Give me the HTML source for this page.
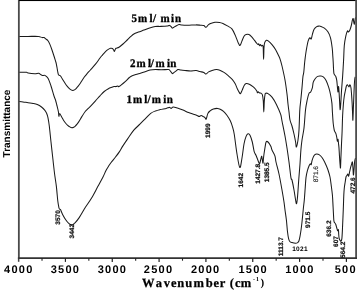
<!DOCTYPE html>
<html><head><meta charset="utf-8"><style>
html,body{margin:0;padding:0;background:#fff;}
body{width:357px;height:290px;overflow:hidden;font-family:"Liberation Sans",sans-serif;}
svg{display:block;will-change:transform;text-rendering:geometricPrecision;}
</style></head><body>
<svg width="357" height="290" viewBox="0 0 357 290">
<rect width="357" height="290" fill="#fff"/>
<path d="M18.50 36.40 C20.08 36.40 24.75 36.40 28.00 36.40 C31.25 36.40 36.03 36.33 38.00 36.40 C39.97 36.47 39.07 36.60 39.80 36.80 C40.53 37.00 41.70 37.48 42.40 37.60 C43.10 37.72 43.45 37.30 44.00 37.50 C44.55 37.70 45.03 38.25 45.70 38.80 C46.37 39.35 47.28 39.83 48.00 40.80 C48.72 41.77 49.33 43.07 50.00 44.60 C50.67 46.13 51.23 47.77 52.00 50.00 C52.77 52.23 53.93 55.92 54.60 58.00 C55.27 60.08 55.60 60.92 56.00 62.50 C56.40 64.08 56.72 66.00 57.00 67.50 C57.28 69.00 57.47 70.32 57.70 71.50 C57.93 72.68 58.15 73.97 58.40 74.60 C58.65 75.23 58.90 75.13 59.20 75.30 C59.50 75.47 59.87 75.32 60.20 75.60 C60.53 75.88 60.70 76.22 61.20 77.00 C61.70 77.78 62.53 79.22 63.20 80.30 C63.87 81.38 64.52 82.50 65.20 83.50 C65.88 84.50 66.60 85.45 67.30 86.30 C68.00 87.15 68.77 88.00 69.40 88.60 C70.03 89.20 70.53 89.60 71.10 89.90 C71.67 90.20 72.23 90.40 72.80 90.40 C73.37 90.40 73.95 90.20 74.50 89.90 C75.05 89.60 75.48 89.22 76.10 88.60 C76.72 87.98 77.50 87.08 78.20 86.20 C78.90 85.32 79.25 84.87 80.30 83.30 C81.35 81.73 83.30 78.48 84.50 76.80 C85.70 75.12 86.52 74.33 87.50 73.20 C88.48 72.07 89.07 71.50 90.40 70.00 C91.73 68.50 93.90 66.20 95.50 64.20 C97.10 62.20 98.88 59.48 100.00 58.00 C101.12 56.52 101.28 56.37 102.20 55.30 C103.12 54.23 104.48 52.58 105.50 51.60 C106.52 50.62 107.47 49.95 108.30 49.40 C109.13 48.85 109.80 48.45 110.50 48.30 C111.20 48.15 112.00 48.25 112.50 48.50 C113.00 48.75 113.18 49.28 113.50 49.80 C113.82 50.32 114.12 51.65 114.40 51.60 C114.68 51.55 114.93 50.05 115.20 49.50 C115.47 48.95 115.37 48.68 116.00 48.30 C116.63 47.92 117.83 47.92 119.00 47.20 C120.17 46.48 121.63 45.20 123.00 44.00 C124.37 42.80 125.93 41.22 127.20 40.00 C128.47 38.78 129.48 37.70 130.60 36.70 C131.72 35.70 132.60 34.77 133.90 34.00 C135.20 33.23 136.72 32.75 138.40 32.10 C140.08 31.45 142.13 30.78 144.00 30.10 C145.87 29.42 147.73 28.60 149.60 28.00 C151.47 27.40 153.47 26.77 155.20 26.50 C156.93 26.23 158.53 26.43 160.00 26.40 C161.47 26.37 162.80 26.35 164.00 26.30 C165.20 26.25 166.30 26.25 167.20 26.10 C168.10 25.95 168.75 25.32 169.40 25.40 C170.05 25.48 170.63 26.15 171.10 26.60 C171.57 27.05 171.73 28.00 172.20 28.10 C172.67 28.20 173.33 27.50 173.90 27.20 C174.47 26.90 174.75 26.73 175.60 26.30 C176.45 25.87 177.97 24.80 179.00 24.60 C180.03 24.40 180.40 24.98 181.80 25.10 C183.20 25.22 185.03 25.33 187.40 25.30 C189.77 25.27 193.82 24.92 196.00 24.90 C198.18 24.88 199.20 25.08 200.50 25.20 C201.80 25.32 202.87 25.25 203.80 25.60 C204.73 25.95 205.35 27.42 206.10 27.30 C206.85 27.18 207.55 25.53 208.30 24.90 C209.05 24.27 209.48 23.93 210.60 23.50 C211.72 23.07 213.52 22.48 215.00 22.30 C216.48 22.12 218.18 22.22 219.50 22.40 C220.82 22.58 221.58 22.82 222.90 23.40 C224.22 23.98 225.90 24.98 227.40 25.90 C228.90 26.82 230.58 27.32 231.90 28.90 C233.22 30.48 234.22 33.02 235.30 35.40 C236.38 37.78 237.60 41.55 238.40 43.20 C239.20 44.85 239.52 45.65 240.10 45.30 C240.68 44.95 241.25 42.62 241.90 41.10 C242.55 39.58 243.30 37.28 244.00 36.20 C244.70 35.12 245.28 34.87 246.10 34.60 C246.92 34.33 247.97 34.22 248.90 34.60 C249.83 34.98 250.77 35.93 251.70 36.90 C252.63 37.87 253.68 39.35 254.50 40.40 C255.32 41.45 256.02 42.50 256.60 43.20 C257.18 43.90 257.65 44.48 258.00 44.60 C258.35 44.72 258.42 43.72 258.70 43.90 C258.98 44.08 259.40 45.58 259.70 45.70 C260.00 45.82 260.20 44.55 260.50 44.60 C260.80 44.65 261.17 45.88 261.50 46.00 C261.83 46.12 262.22 45.05 262.50 45.30 C262.78 45.55 263.02 45.17 263.20 47.50 C263.38 49.83 263.47 59.30 263.60 59.30 C263.73 59.30 263.82 50.28 264.00 47.50 C264.18 44.72 264.30 43.80 264.70 42.60 C265.10 41.40 265.77 40.55 266.40 40.30 C267.03 40.05 267.57 40.38 268.50 41.10 C269.43 41.82 270.83 43.20 272.00 44.60 C273.17 46.00 274.45 47.75 275.50 49.50 C276.55 51.25 277.55 53.55 278.30 55.10 C279.05 56.65 279.38 56.98 280.00 58.80 C280.62 60.62 281.17 62.47 282.00 66.00 C282.83 69.53 284.17 75.33 285.00 80.00 C285.83 84.67 286.50 90.00 287.00 94.00 C287.50 98.00 287.67 101.00 288.00 104.00 C288.33 107.00 288.67 109.33 289.00 112.00 C289.33 114.67 289.50 117.67 290.00 120.00 C290.50 122.33 291.33 123.67 292.00 126.00 C292.67 128.33 293.40 131.33 294.00 134.00 C294.60 136.67 295.20 139.83 295.60 142.00 C296.00 144.17 296.00 147.33 296.40 147.00 C296.80 146.67 297.57 142.83 298.00 140.00 C298.43 137.17 298.70 135.00 299.00 130.00 C299.30 125.00 299.50 115.00 299.80 110.00 C300.10 105.00 300.43 103.73 300.80 100.00 C301.17 96.27 301.65 91.43 302.00 87.60 C302.35 83.77 302.60 79.60 302.90 77.00 C303.20 74.40 303.52 74.33 303.80 72.00 C304.08 69.67 304.35 65.50 304.60 63.00 C304.85 60.50 305.07 58.83 305.30 57.00 C305.53 55.17 305.77 53.52 306.00 52.00 C306.23 50.48 306.35 49.70 306.70 47.90 C307.05 46.10 307.58 42.88 308.10 41.20 C308.62 39.52 309.28 38.17 309.80 37.80 C310.32 37.43 310.77 39.58 311.20 39.00 C311.63 38.42 311.92 35.92 312.40 34.30 C312.88 32.68 313.38 30.58 314.10 29.30 C314.82 28.02 315.88 27.13 316.70 26.60 C317.52 26.07 318.28 26.13 319.00 26.10 C319.72 26.07 320.10 26.05 321.00 26.40 C321.90 26.75 323.25 27.30 324.40 28.20 C325.55 29.10 326.88 30.20 327.90 31.80 C328.92 33.40 329.78 35.10 330.50 37.80 C331.22 40.50 331.82 44.97 332.20 48.00 C332.58 51.03 332.63 53.67 332.80 56.00 C332.97 58.33 333.08 59.95 333.20 62.00 C333.32 64.05 333.38 66.42 333.50 68.30 C333.62 70.18 333.70 72.20 333.90 73.30 C334.10 74.40 334.37 74.32 334.70 74.90 C335.03 75.48 335.55 75.83 335.90 76.80 C336.25 77.77 336.55 79.02 336.80 80.70 C337.05 82.38 337.20 85.02 337.40 86.90 C337.60 88.78 337.82 92.07 338.00 92.00 C338.18 91.93 338.33 86.67 338.50 86.50 C338.67 86.33 338.82 88.52 339.00 91.00 C339.18 93.48 339.42 98.28 339.60 101.40 C339.78 104.52 339.90 109.43 340.10 109.70 C340.30 109.97 340.57 106.12 340.80 103.00 C341.03 99.88 341.20 95.40 341.50 91.00 C341.80 86.60 342.25 81.77 342.60 76.60 C342.95 71.43 343.32 65.18 343.60 60.00 C343.88 54.82 343.93 49.47 344.30 45.50 C344.67 41.53 345.28 38.62 345.80 36.20 C346.32 33.78 346.97 31.70 347.40 31.00 C347.83 30.30 347.98 32.17 348.40 32.00 C348.82 31.83 349.42 31.08 349.90 30.00 C350.38 28.92 350.90 27.08 351.30 25.50 C351.70 23.92 351.98 21.65 352.30 20.50 C352.62 19.35 352.88 17.93 353.20 18.60 C353.52 19.27 353.85 24.52 354.20 24.50 C354.55 24.48 355.00 19.67 355.30 18.50 C355.60 17.33 355.88 17.67 356.00 17.50" fill="none" stroke="#1a1a1a" stroke-width="1.05" stroke-linejoin="round"/>
<path d="M18.50 72.20 C19.82 72.22 24.80 72.15 26.40 72.30 C28.00 72.45 26.70 72.87 28.10 73.10 C29.50 73.33 33.05 73.68 34.80 73.70 C36.55 73.72 37.62 73.07 38.60 73.20 C39.58 73.33 40.07 74.12 40.70 74.50 C41.33 74.88 41.70 75.35 42.40 75.50 C43.10 75.65 43.97 74.93 44.90 75.40 C45.83 75.87 46.98 76.53 48.00 78.30 C49.02 80.07 50.00 83.05 51.00 86.00 C52.00 88.95 53.25 93.67 54.00 96.00 C54.75 98.33 55.03 98.50 55.50 100.00 C55.97 101.50 56.42 103.50 56.80 105.00 C57.18 106.50 57.52 107.78 57.80 109.00 C58.08 110.22 58.32 111.08 58.50 112.30 C58.68 113.52 58.75 116.05 58.90 116.30 C59.05 116.55 59.18 114.13 59.40 113.80 C59.62 113.47 59.80 113.73 60.20 114.30 C60.60 114.87 61.25 116.22 61.80 117.20 C62.35 118.18 62.88 119.23 63.50 120.20 C64.12 121.17 64.80 122.15 65.50 123.00 C66.20 123.85 66.98 124.65 67.70 125.30 C68.42 125.95 69.10 126.48 69.80 126.90 C70.50 127.32 71.25 127.73 71.90 127.80 C72.55 127.87 73.13 127.58 73.70 127.30 C74.27 127.02 74.75 126.62 75.30 126.10 C75.85 125.58 76.43 124.90 77.00 124.20 C77.57 123.50 77.87 123.20 78.70 121.90 C79.53 120.60 80.88 118.17 82.00 116.40 C83.12 114.63 84.40 112.60 85.40 111.30 C86.40 110.00 87.17 109.43 88.00 108.60 C88.83 107.77 89.15 107.60 90.40 106.30 C91.65 105.00 93.90 102.55 95.50 100.80 C97.10 99.05 98.55 97.35 100.00 95.80 C101.45 94.25 102.80 92.68 104.20 91.50 C105.60 90.32 107.12 89.40 108.40 88.70 C109.68 88.00 110.97 87.65 111.90 87.30 C112.83 86.95 113.30 86.72 114.00 86.60 C114.70 86.48 115.52 86.72 116.10 86.60 C116.68 86.48 117.03 85.90 117.50 85.90 C117.97 85.90 118.32 86.72 118.90 86.60 C119.48 86.48 119.95 86.02 121.00 85.20 C122.05 84.38 123.80 82.98 125.20 81.70 C126.60 80.42 128.23 78.50 129.40 77.50 C130.57 76.50 130.80 76.28 132.20 75.70 C133.60 75.12 135.93 74.57 137.80 74.00 C139.67 73.43 141.37 72.95 143.40 72.30 C145.43 71.65 147.97 70.57 150.00 70.10 C152.03 69.63 153.73 69.55 155.60 69.50 C157.47 69.45 159.10 69.80 161.20 69.80 C163.30 69.80 166.80 69.45 168.20 69.50 C169.60 69.55 169.13 69.70 169.60 70.10 C170.07 70.50 170.53 71.32 171.00 71.90 C171.47 72.48 171.93 73.48 172.40 73.60 C172.87 73.72 173.22 73.02 173.80 72.60 C174.38 72.18 175.20 71.60 175.90 71.10 C176.60 70.60 177.18 69.77 178.00 69.60 C178.82 69.43 179.63 69.95 180.80 70.10 C181.97 70.25 183.37 70.37 185.00 70.50 C186.63 70.63 188.73 70.88 190.60 70.90 C192.47 70.92 194.63 70.48 196.20 70.60 C197.77 70.72 198.75 71.30 200.00 71.60 C201.25 71.90 202.68 72.00 203.70 72.40 C204.72 72.80 205.28 74.08 206.10 74.00 C206.92 73.92 207.60 72.48 208.60 71.90 C209.60 71.32 210.82 70.88 212.10 70.50 C213.38 70.12 215.02 69.65 216.30 69.60 C217.58 69.55 218.52 69.73 219.80 70.20 C221.08 70.67 222.60 71.48 224.00 72.40 C225.40 73.32 226.80 74.50 228.20 75.70 C229.60 76.90 231.23 78.25 232.40 79.60 C233.57 80.95 234.38 82.28 235.20 83.80 C236.02 85.32 236.60 87.23 237.30 88.70 C238.00 90.17 238.87 91.78 239.40 92.60 C239.93 93.42 240.03 94.02 240.50 93.60 C240.97 93.18 241.57 91.50 242.20 90.10 C242.83 88.70 243.62 86.30 244.30 85.20 C244.98 84.10 245.38 83.62 246.30 83.50 C247.22 83.38 248.63 83.93 249.80 84.50 C250.97 85.07 252.37 86.15 253.30 86.90 C254.23 87.65 254.82 88.30 255.40 89.00 C255.98 89.70 256.45 90.47 256.80 91.10 C257.15 91.73 257.27 92.68 257.50 92.80 C257.73 92.92 257.85 91.77 258.20 91.80 C258.55 91.83 259.13 92.77 259.60 93.00 C260.07 93.23 260.53 92.90 261.00 93.20 C261.47 93.50 262.02 93.50 262.40 94.80 C262.78 96.10 263.07 98.13 263.30 101.00 C263.53 103.87 263.63 112.00 263.80 112.00 C263.97 112.00 264.08 103.97 264.30 101.00 C264.52 98.03 264.83 95.50 265.10 94.20 C265.37 92.90 265.42 93.30 265.90 93.20 C266.38 93.10 266.95 92.90 268.00 93.60 C269.05 94.30 270.80 95.60 272.20 97.40 C273.60 99.20 275.00 101.60 276.40 104.40 C277.80 107.20 279.67 111.43 280.60 114.20 C281.53 116.97 281.27 117.37 282.00 121.00 C282.73 124.63 284.17 131.50 285.00 136.00 C285.83 140.50 286.33 143.67 287.00 148.00 C287.67 152.33 288.33 157.00 289.00 162.00 C289.67 167.00 290.50 175.00 291.00 178.00 C291.50 181.00 291.50 178.00 292.00 180.00 C292.50 182.00 293.40 186.67 294.00 190.00 C294.60 193.33 295.17 197.73 295.60 200.00 C296.03 202.27 296.27 204.27 296.60 203.60 C296.93 202.93 297.23 200.10 297.60 196.00 C297.97 191.90 298.40 184.33 298.80 179.00 C299.20 173.67 299.65 168.83 300.00 164.00 C300.35 159.17 300.57 154.00 300.90 150.00 C301.23 146.00 301.48 143.67 302.00 140.00 C302.52 136.33 303.42 133.00 304.00 128.00 C304.58 123.00 304.97 114.67 305.50 110.00 C306.03 105.33 306.63 102.73 307.20 100.00 C307.77 97.27 308.32 94.95 308.90 93.60 C309.48 92.25 310.12 92.90 310.70 91.90 C311.28 90.90 311.98 89.18 312.40 87.60 C312.82 86.02 312.77 83.83 313.20 82.40 C313.63 80.97 314.27 80.00 315.00 79.00 C315.73 78.00 316.60 76.90 317.60 76.40 C318.60 75.90 320.00 75.87 321.00 76.00 C322.00 76.13 322.73 76.42 323.60 77.20 C324.47 77.98 325.33 78.97 326.20 80.70 C327.07 82.43 328.08 85.30 328.80 87.60 C329.52 89.90 329.98 91.92 330.50 94.50 C331.02 97.08 331.58 100.18 331.90 103.10 C332.22 106.02 332.18 108.63 332.40 112.00 C332.62 115.37 332.92 120.42 333.20 123.30 C333.48 126.18 333.85 127.95 334.10 129.30 C334.35 130.65 334.40 130.68 334.70 131.40 C335.00 132.12 335.55 132.58 335.90 133.60 C336.25 134.62 336.55 136.23 336.80 137.50 C337.05 138.77 337.20 140.92 337.40 141.20 C337.60 141.48 337.82 138.82 338.00 139.20 C338.18 139.58 338.33 142.02 338.50 143.50 C338.67 144.98 338.83 145.95 339.00 148.10 C339.17 150.25 339.32 153.63 339.50 156.40 C339.68 159.17 339.93 162.80 340.10 164.70 C340.27 166.60 340.37 168.92 340.50 167.80 C340.63 166.68 340.73 161.97 340.90 158.00 C341.07 154.03 341.30 148.40 341.50 144.00 C341.70 139.60 341.92 136.27 342.10 131.60 C342.28 126.93 342.38 120.60 342.60 116.00 C342.82 111.40 343.12 107.33 343.40 104.00 C343.68 100.67 343.98 98.17 344.30 96.00 C344.62 93.83 344.95 92.67 345.30 91.00 C345.65 89.33 346.05 87.03 346.40 86.00 C346.75 84.97 346.97 84.65 347.40 84.80 C347.83 84.95 348.58 86.90 349.00 86.90 C349.42 86.90 349.57 84.62 349.90 84.80 C350.23 84.98 350.65 85.30 351.00 88.00 C351.35 90.70 351.73 96.67 352.00 101.00 C352.27 105.33 352.45 110.83 352.60 114.00 C352.75 117.17 352.75 121.50 352.90 120.00 C353.05 118.50 353.27 110.83 353.50 105.00 C353.73 99.17 354.07 89.50 354.30 85.00 C354.53 80.50 354.70 79.33 354.90 78.00 C355.10 76.67 355.40 77.17 355.50 77.00" fill="none" stroke="#1a1a1a" stroke-width="1.05" stroke-linejoin="round"/>
<path d="M18.50 101.30 C19.25 101.40 21.40 101.67 23.00 101.90 C24.60 102.13 26.42 102.45 28.10 102.70 C29.78 102.95 31.57 103.10 33.10 103.40 C34.63 103.70 35.90 103.90 37.30 104.50 C38.70 105.10 40.23 106.02 41.50 107.00 C42.77 107.98 44.05 109.35 44.90 110.40 C45.75 111.45 46.08 112.07 46.60 113.30 C47.12 114.53 47.55 115.68 48.00 117.80 C48.45 119.92 48.80 121.97 49.30 126.00 C49.80 130.03 50.38 136.33 51.00 142.00 C51.62 147.67 52.40 154.67 53.00 160.00 C53.60 165.33 54.03 169.57 54.60 174.00 C55.17 178.43 55.87 182.10 56.40 186.60 C56.93 191.10 57.37 197.43 57.80 201.00 C58.23 204.57 58.70 206.63 59.00 208.00 C59.30 209.37 59.35 208.93 59.60 209.20 C59.85 209.47 60.00 208.72 60.50 209.60 C61.00 210.48 61.73 212.82 62.60 214.50 C63.47 216.18 64.67 218.22 65.70 219.70 C66.73 221.18 67.83 222.53 68.80 223.40 C69.77 224.27 70.47 225.00 71.50 224.90 C72.53 224.80 73.72 224.02 75.00 222.80 C76.28 221.58 77.47 220.18 79.20 217.60 C80.93 215.02 83.33 210.57 85.40 207.30 C87.47 204.03 89.53 201.45 91.60 198.00 C93.67 194.55 95.90 190.10 97.80 186.60 C99.70 183.10 101.63 179.68 103.00 177.00 C104.37 174.32 105.08 172.28 106.00 170.50 C106.92 168.72 107.68 167.58 108.50 166.30 C109.32 165.02 109.70 164.38 110.90 162.80 C112.10 161.22 114.30 158.62 115.70 156.80 C117.10 154.98 118.10 153.72 119.30 151.90 C120.50 150.08 121.48 148.12 122.90 145.90 C124.32 143.68 125.98 141.22 127.80 138.60 C129.62 135.98 131.78 132.60 133.80 130.20 C135.82 127.80 137.88 126.22 139.90 124.20 C141.92 122.18 144.10 119.92 145.90 118.10 C147.70 116.28 149.08 114.50 150.70 113.30 C152.32 112.10 154.03 111.52 155.60 110.90 C157.17 110.28 158.33 110.02 160.10 109.60 C161.87 109.18 164.60 108.77 166.20 108.40 C167.80 108.03 168.88 107.38 169.70 107.40 C170.52 107.42 170.52 108.55 171.10 108.50 C171.68 108.45 172.15 107.17 173.20 107.10 C174.25 107.03 175.77 107.60 177.40 108.10 C179.03 108.60 181.13 109.35 183.00 110.10 C184.87 110.85 186.97 111.95 188.60 112.60 C190.23 113.25 191.40 113.53 192.80 114.00 C194.20 114.47 195.95 114.98 197.00 115.40 C198.05 115.82 198.40 116.47 199.10 116.50 C199.80 116.53 200.50 115.58 201.20 115.60 C201.90 115.62 202.67 116.27 203.30 116.60 C203.93 116.93 204.52 117.17 205.00 117.60 C205.48 118.03 205.73 119.87 206.20 119.20 C206.67 118.53 207.15 114.98 207.80 113.60 C208.45 112.22 209.17 111.67 210.10 110.90 C211.03 110.13 212.18 109.42 213.40 109.00 C214.62 108.58 216.27 108.37 217.40 108.40 C218.53 108.43 219.18 108.70 220.20 109.20 C221.22 109.70 222.38 110.38 223.50 111.40 C224.62 112.42 225.77 113.73 226.90 115.30 C228.03 116.87 229.37 118.87 230.30 120.80 C231.23 122.73 231.85 124.70 232.50 126.90 C233.15 129.10 233.45 129.48 234.20 134.00 C234.95 138.52 236.07 148.42 237.00 154.00 C237.93 159.58 238.97 166.83 239.80 167.50 C240.63 168.17 241.30 161.92 242.00 158.00 C242.70 154.08 243.33 147.57 244.00 144.00 C244.67 140.43 245.33 138.30 246.00 136.60 C246.67 134.90 247.33 134.03 248.00 133.80 C248.67 133.57 249.28 133.83 250.00 135.20 C250.72 136.57 251.60 139.25 252.30 142.00 C253.00 144.75 253.57 149.45 254.20 151.70 C254.83 153.95 255.43 153.95 256.10 155.50 C256.77 157.05 257.62 159.62 258.20 161.00 C258.78 162.38 259.23 163.80 259.60 163.80 C259.97 163.80 260.17 161.92 260.40 161.00 C260.63 160.08 260.78 159.10 261.00 158.30 C261.22 157.50 261.48 155.97 261.70 156.20 C261.92 156.43 262.08 158.55 262.30 159.70 C262.52 160.85 262.80 163.38 263.00 163.10 C263.20 162.82 263.33 159.52 263.50 158.00 C263.67 156.48 263.75 155.73 264.00 154.00 C264.25 152.27 264.65 149.60 265.00 147.60 C265.35 145.60 265.60 142.93 266.10 142.00 C266.60 141.07 267.22 141.30 268.00 142.00 C268.78 142.70 270.13 144.87 270.80 146.20 C271.47 147.53 271.32 148.38 272.00 150.00 C272.68 151.62 274.23 153.90 274.90 155.90 C275.57 157.90 275.32 158.98 276.00 162.00 C276.68 165.02 278.00 169.33 279.00 174.00 C280.00 178.67 281.17 185.33 282.00 190.00 C282.83 194.67 283.50 198.67 284.00 202.00 C284.50 205.33 284.60 207.00 285.00 210.00 C285.40 213.00 285.98 216.37 286.40 220.00 C286.82 223.63 287.13 228.70 287.50 231.80 C287.87 234.90 288.22 236.98 288.60 238.60 C288.98 240.22 289.23 240.83 289.80 241.50 C290.37 242.17 291.05 242.32 292.00 242.60 C292.95 242.88 294.55 243.20 295.50 243.20 C296.45 243.20 297.13 242.97 297.70 242.60 C298.27 242.23 298.52 242.03 298.90 241.00 C299.28 239.97 299.63 238.32 300.00 236.40 C300.37 234.48 300.77 231.90 301.10 229.50 C301.43 227.10 301.72 224.58 302.00 222.00 C302.28 219.42 302.55 216.50 302.80 214.00 C303.05 211.50 303.25 209.33 303.50 207.00 C303.75 204.67 304.02 203.17 304.30 200.00 C304.58 196.83 304.92 191.73 305.20 188.00 C305.48 184.27 305.63 180.48 306.00 177.60 C306.37 174.72 306.87 172.72 307.40 170.70 C307.93 168.68 308.70 166.65 309.20 165.50 C309.70 164.35 310.07 163.93 310.40 163.80 C310.73 163.67 310.92 165.28 311.20 164.70 C311.48 164.12 311.67 161.75 312.10 160.30 C312.53 158.85 313.22 157.00 313.80 156.00 C314.38 155.00 314.88 154.58 315.60 154.30 C316.32 154.02 317.25 154.02 318.10 154.30 C318.95 154.58 319.83 155.13 320.70 156.00 C321.57 156.87 322.42 158.00 323.30 159.50 C324.18 161.00 325.22 163.25 326.00 165.00 C326.78 166.75 327.33 168.00 328.00 170.00 C328.67 172.00 329.45 174.33 330.00 177.00 C330.55 179.67 330.90 183.00 331.30 186.00 C331.70 189.00 332.15 192.43 332.40 195.00 C332.65 197.57 332.63 198.43 332.80 201.40 C332.97 204.37 333.23 209.70 333.40 212.80 C333.57 215.90 333.65 218.43 333.80 220.00 C333.95 221.57 333.98 221.50 334.30 222.20 C334.62 222.90 335.28 223.23 335.70 224.20 C336.12 225.17 336.48 226.90 336.80 228.00 C337.12 229.10 337.33 230.53 337.60 230.80 C337.87 231.07 338.22 229.07 338.40 229.60 C338.58 230.13 338.58 232.57 338.70 234.00 C338.82 235.43 338.88 237.15 339.10 238.20 C339.32 239.25 339.68 239.80 340.00 240.30 C340.32 240.80 340.68 241.52 341.00 241.20 C341.32 240.88 341.65 240.60 341.90 238.40 C342.15 236.20 342.27 232.90 342.50 228.00 C342.73 223.10 343.08 214.50 343.30 209.00 C343.52 203.50 343.63 198.50 343.80 195.00 C343.97 191.50 344.07 190.17 344.30 188.00 C344.53 185.83 344.92 183.83 345.20 182.00 C345.48 180.17 345.72 178.08 346.00 177.00 C346.28 175.92 346.60 176.00 346.90 175.50 C347.20 175.00 347.52 173.88 347.80 174.00 C348.08 174.12 348.32 176.47 348.60 176.20 C348.88 175.93 349.15 173.90 349.50 172.40 C349.85 170.90 350.33 168.63 350.70 167.20 C351.07 165.77 351.42 164.67 351.70 163.80 C351.98 162.93 352.20 161.43 352.40 162.00 C352.60 162.57 352.73 165.03 352.90 167.20 C353.07 169.37 353.22 174.53 353.40 175.00 C353.58 175.47 353.80 172.17 354.00 170.00 C354.20 167.83 354.35 164.00 354.60 162.00 C354.85 160.00 355.35 158.67 355.50 158.00" fill="none" stroke="#1a1a1a" stroke-width="1.05" stroke-linejoin="round"/>
<rect x="17.95" y="0" width="1.8" height="258.9" fill="#4a4a4a"/>
<rect x="19" y="0" width="338" height="1.05" fill="#000"/>
<rect x="355.2" y="0" width="1.8" height="258.9" fill="#4d4d4d"/>
<rect x="17.9" y="257.25" width="339.1" height="1.75" fill="#333"/>
<rect x="17.9" y="258.8" width="1.5" height="3" fill="#444"/>
<line x1="42.02" y1="258" x2="42.02" y2="260.7" stroke="#222" stroke-width="1.1"/>
<line x1="65.43" y1="258" x2="65.43" y2="261.9" stroke="#222" stroke-width="1.2"/>
<line x1="88.84" y1="258" x2="88.84" y2="260.7" stroke="#222" stroke-width="1.1"/>
<line x1="112.26" y1="258" x2="112.26" y2="261.9" stroke="#222" stroke-width="1.2"/>
<line x1="135.67" y1="258" x2="135.67" y2="260.7" stroke="#222" stroke-width="1.1"/>
<line x1="159.09" y1="258" x2="159.09" y2="261.9" stroke="#222" stroke-width="1.2"/>
<line x1="182.50" y1="258" x2="182.50" y2="260.7" stroke="#222" stroke-width="1.1"/>
<line x1="205.92" y1="258" x2="205.92" y2="261.9" stroke="#222" stroke-width="1.2"/>
<line x1="229.33" y1="258" x2="229.33" y2="260.7" stroke="#222" stroke-width="1.1"/>
<line x1="252.75" y1="258" x2="252.75" y2="261.9" stroke="#222" stroke-width="1.2"/>
<line x1="276.17" y1="258" x2="276.17" y2="260.7" stroke="#222" stroke-width="1.1"/>
<line x1="299.58" y1="258" x2="299.58" y2="261.9" stroke="#222" stroke-width="1.2"/>
<line x1="323.00" y1="258" x2="323.00" y2="260.7" stroke="#222" stroke-width="1.1"/>
<line x1="346.41" y1="258" x2="346.41" y2="261.9" stroke="#222" stroke-width="1.2"/>
<text x="4.04" y="272.7" font-family="Liberation Sans" font-weight="bold" font-size="11" letter-spacing="1.25">4000</text>
<text x="50.65" y="272.7" font-family="Liberation Sans" font-weight="bold" font-size="11" letter-spacing="1.25">3500</text>
<text x="97.65" y="272.7" font-family="Liberation Sans" font-weight="bold" font-size="11" letter-spacing="1.25">3000</text>
<text x="143.81" y="272.7" font-family="Liberation Sans" font-weight="bold" font-size="11" letter-spacing="1.25">2500</text>
<text x="190.92" y="272.7" font-family="Liberation Sans" font-weight="bold" font-size="11" letter-spacing="1.25">2000</text>
<text x="238.51" y="272.7" font-family="Liberation Sans" font-weight="bold" font-size="11" letter-spacing="1.25">1500</text>
<text x="285.21" y="272.7" font-family="Liberation Sans" font-weight="bold" font-size="11" letter-spacing="1.25">1000</text>
<text x="334.66" y="272.7" font-family="Liberation Sans" font-weight="bold" font-size="11" letter-spacing="1.25">500</text>
<text x="142.12 155.80 163.80 170.88 177.26 185.21 193.46 205.84 213.38 219.76 229.65 234.88 240.86" y="287" font-family="Liberation Serif" font-weight="bold" font-size="12.5" stroke="#000" stroke-width="0.25">Wavenumber(cm</text>
<text x="252.98 256.12" y="280.6" font-family="Liberation Serif" font-weight="bold" font-size="6">-1</text>
<text x="260.45" y="286.3" font-family="Liberation Serif" font-weight="bold" font-size="11">)</text>
<text transform="translate(9.6 157.4) rotate(-90)" font-family="Liberation Sans" font-weight="bold" font-size="10">Transmittance</text>
<g transform="translate(0 21.50) scale(1 1.05) translate(0 -21.50)"><text x="131.56 137.90 149.58 153.01 160.50 171.06 174.90" y="21.50" font-family="Liberation Serif" font-weight="bold" font-size="11.00" stroke="#000" stroke-width="0.3">5ml/min</text></g>
<g transform="translate(0 66.60) scale(1 1.05) translate(0 -66.60)"><text x="129.94 136.60 147.88 150.71 155.40 166.96 170.20" y="66.60" font-family="Liberation Serif" font-weight="bold" font-size="11.00" stroke="#000" stroke-width="0.3">2ml/min</text></g>
<g transform="translate(0 103.40) scale(1 1.05) translate(0 -103.40)"><text x="126.52 133.00 144.18 147.61 151.70 163.26 166.80" y="103.40" font-family="Liberation Serif" font-weight="bold" font-size="11.00" stroke="#000" stroke-width="0.3">1ml/min</text></g>
<text transform="translate(57.90 217.40) rotate(-90)" text-anchor="middle" dy="2.3" font-family="Liberation Sans" font-weight="bold" font-size="6.5" fill="#111" stroke="#111" stroke-width="0.22">3570</text>
<text transform="translate(71.20 231.20) rotate(-90)" text-anchor="middle" dy="2.3" font-family="Liberation Sans" font-weight="bold" font-size="6.5" fill="#111" stroke="#111" stroke-width="0.22">3442</text>
<text transform="translate(208.00 130.70) rotate(-90)" text-anchor="middle" dy="2.3" font-family="Liberation Sans" font-weight="bold" font-size="6.5" fill="#111" stroke="#111" stroke-width="0.22">1999</text>
<text transform="translate(240.50 180.20) rotate(-90)" text-anchor="middle" dy="2.3" font-family="Liberation Sans" font-weight="bold" font-size="6.5" fill="#111" stroke="#111" stroke-width="0.22">1642</text>
<text transform="translate(257.50 173.80) rotate(-90)" text-anchor="middle" dy="2.3" font-family="Liberation Sans" font-weight="bold" font-size="6.5" fill="#111" stroke="#111" stroke-width="0.22">1427.8</text>
<text transform="translate(266.60 172.30) rotate(-90)" text-anchor="middle" dy="2.3" font-family="Liberation Sans" font-weight="bold" font-size="6.5" fill="#111" stroke="#111" stroke-width="0.22">1385.5</text>
<text transform="translate(280.70 246.60) rotate(-90)" text-anchor="middle" dy="2.3" font-family="Liberation Sans" font-weight="bold" font-size="6.5" fill="#111" stroke="#111" stroke-width="0.22">1113.7</text>
<text transform="translate(307.50 219.80) rotate(-90)" text-anchor="middle" dy="2.3" font-family="Liberation Sans" font-weight="bold" font-size="6.5" fill="#111" stroke="#111" stroke-width="0.22">971.5</text>
<text transform="translate(316.00 174.20) rotate(-90)" text-anchor="middle" dy="2.3" font-family="Liberation Sans" font-weight="normal" font-size="6.5" fill="#333" stroke="#333" stroke-width="0.2">871.6</text>
<text transform="translate(328.30 228.60) rotate(-90)" text-anchor="middle" dy="2.3" font-family="Liberation Sans" font-weight="bold" font-size="6.5" fill="#111" stroke="#111" stroke-width="0.22">636.2</text>
<text transform="translate(335.40 241.50) rotate(-90)" text-anchor="middle" dy="2.3" font-family="Liberation Sans" font-weight="bold" font-size="6.5" fill="#111" stroke="#111" stroke-width="0.22">607</text>
<text transform="translate(342.70 249.80) rotate(-90)" text-anchor="middle" dy="2.3" font-family="Liberation Sans" font-weight="bold" font-size="6.5" fill="#111" stroke="#111" stroke-width="0.22">564.2</text>
<text transform="translate(353.00 185.40) rotate(-90)" text-anchor="middle" dy="2.3" font-family="Liberation Sans" font-weight="bold" font-size="6.5" fill="#111" stroke="#111" stroke-width="0.22">472.6</text>
<text x="300.1" y="250.8" text-anchor="middle" font-family="Liberation Sans" font-weight="bold" font-size="6.5" letter-spacing="0.35">1021</text>
</svg>
</body></html>
